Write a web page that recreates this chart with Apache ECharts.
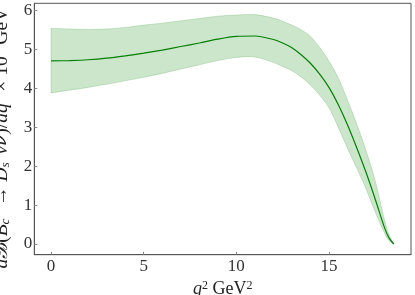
<!DOCTYPE html>
<html>
<head>
<meta charset="utf-8">
<script src="https://cdn.jsdelivr.net/npm/echarts@6/dist/echarts.min.js"></script>
<style>
html,body{margin:0;padding:0;background:#fff;}
#c{width:415px;height:295px;}
</style>
</head>
<body>
<div id="c"></div>
<script>
const q2 = [0,1,2,3,4,5,6,7,8,9,10,11,12,12.5,13,13.5,14,14.5,15,15.5,16,16.5,17,17.5,18,18.25,18.5];
const central = [4.70,4.71,4.73,4.77,4.83,4.90,4.98,5.07,5.16,5.26,5.33,5.34,5.25,5.16,5.04,4.86,4.64,4.36,4.02,3.58,3.06,2.47,1.84,1.15,0.42,0.15,0.0];
const upper = [5.54,5.52,5.51,5.52,5.56,5.62,5.67,5.73,5.79,5.85,5.88,5.89,5.80,5.72,5.62,5.50,5.33,5.05,4.70,4.27,3.70,3.08,2.40,1.62,0.62,0.24,0.0];
const lower = [3.88,3.95,4.02,4.10,4.19,4.28,4.38,4.49,4.60,4.71,4.79,4.80,4.66,4.56,4.45,4.29,4.08,3.82,3.50,3.00,2.46,1.95,1.42,0.82,0.28,0.08,0.0];
const xTicks = [0,5,10,15];
const yTicks = [0,1,2,3,4,5,6];

const chart = echarts.init(document.getElementById('c'));
const font = '"Liberation Serif", "DejaVu Serif", serif';
const FS = 19.5;
const rm = {fontFamily: font, fontSize: FS, color: '#222'};
const it = {fontFamily: font, fontSize: FS, color: '#222', fontStyle: 'italic'};
const sup = {fontFamily: font, fontSize: 13.5, color: '#222', verticalAlign: 'top', padding:[0,0,8,0]};
const subi = {fontFamily: font, fontSize: 13.5, color: '#222', fontStyle: 'italic', padding:[9,0,0,0]};
const bar = {fontFamily: '"DejaVu Serif", serif', fontSize: FS - 1, color: '#222', fontStyle: 'italic'};

// Catmull-Rom -> cubic bezier path through screen points (rendering only)
function smoothPath(pts, moveFirst) {
  let d = (moveFirst ? 'M' : 'L') + pts[0][0] + ',' + pts[0][1];
  for (let i = 0; i < pts.length - 1; i++) {
    const p0 = pts[i - 1] || pts[i], p1 = pts[i], p2 = pts[i + 1], p3 = pts[i + 2] || pts[i + 1];
    const c1x = p1[0] + (p2[0] - p0[0]) / 6, c1y = p1[1] + (p2[1] - p0[1]) / 6;
    const c2x = p2[0] - (p3[0] - p1[0]) / 6, c2y = p2[1] - (p3[1] - p1[1]) / 6;
    d += ' C' + c1x + ',' + c1y + ' ' + c2x + ',' + c2y + ' ' + p2[0] + ',' + p2[1];
  }
  return d;
}

chart.setOption({
  animation: false,
  grid: {left: 34.3, right: 4, top: 3.3, bottom: 40.3, outerBoundsMode: 'none', containLabel: false, show: true, borderColor: '#555', borderWidth: 1, backgroundColor: 'transparent'},
  xAxis: {
    type: 'value', min: -0.904, max: 19.43,
    splitLine: {show: false},
    axisLine: {show: true, onZero: false, lineStyle: {color: '#555'}},
    axisTick: {show: true, inside: true, length: 3, customValues: xTicks, lineStyle: {color: '#888'}},
    axisLabel: {customValues: xTicks, margin: 3, fontFamily: font, fontSize: 17, color: '#333'},
    name: '{i|q}{s|2} GeV{s|2}',
    nameLocation: 'middle', nameGap: 18,
    nameTextStyle: {rich: {i: Object.assign({}, it, {fontSize: 18}), s: Object.assign({}, sup, {fontSize: 12})}, fontFamily: font, fontSize: 18, color: '#222'}
  },
  yAxis: {
    type: 'value', min: -0.275, max: 6.18,
    splitLine: {show: false},
    axisLine: {show: true, onZero: false, lineStyle: {color: '#555'}},
    axisTick: {show: true, inside: true, length: 3, customValues: yTicks, lineStyle: {color: '#888'}},
    axisLabel: {customValues: yTicks, margin: 2, fontFamily: font, fontSize: 17, color: '#333'},
    name: '{i|dℬ}{r|(}{i|B}{sb|c}{sp|+}{r| → }{i|D}{sb|s}{sp|+}{i|ν}{b|ν̄}{r|)/}{i|dq}{sp|2}{r| × 10}{sp|8}{r| GeV}{sp|−2}',
    nameLocation: 'middle', nameGap: 8, nameRotate: 90,
    nameTextStyle: {rich: {r: rm, i: it, sp: sup, sb: subi, b: bar}, fontFamily: font, fontSize: FS, color: '#222', padding: [0, 4, 0, 0]}
  },
  series: [
    {
      type: 'custom',
      data: [[0]],
      silent: true,
      clip: true,
      renderItem: function (params, api) {
        const up = q2.map((x, i) => api.coord([x, upper[i]]));
        const lo = q2.map((x, i) => api.coord([x, lower[i]])).reverse();
        const d = smoothPath(up, true) + ' ' + smoothPath(lo, false) + ' Z';
        return {
          type: 'path',
          shape: {pathData: d},
          style: {fill: 'rgba(0,128,0,0.2)', stroke: 'rgba(0,128,0,0.22)', lineWidth: 0.8}
        };
      }
    },
    {
      type: 'line',
      data: q2.map((x, i) => [x, central[i]]),
      showSymbol: false,
      smooth: 0.3,
      lineStyle: {color: '#008000', width: 1.2},
      z: 5
    }
  ]
});
</script>
</body>
</html>
